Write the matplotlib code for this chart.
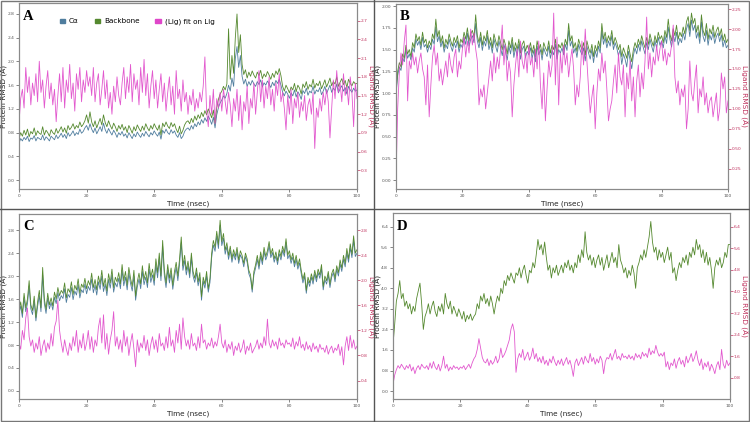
import numpy as np
import matplotlib
matplotlib.use("Agg")
import matplotlib.pyplot as plt
from matplotlib.lines import Line2D
from matplotlib.patches import Rectangle, Patch

time_ns = np.linspace(0, 100, 201)

# ---------------- Panel A ----------------
ca_a = [0.62,0.70,0.66,0.72,0.68,0.74,0.65,0.71,0.69,0.75,0.66,0.72,0.70,0.68,0.76,0.67,0.73,0.70,0.66,0.74,
        0.71,0.68,0.76,0.70,0.74,0.79,0.72,0.77,0.70,0.80,0.74,0.78,0.83,0.75,0.80,0.77,0.86,0.79,0.82,0.88,
        0.92,0.84,0.95,0.86,0.80,0.88,0.78,0.84,0.90,0.82,0.96,0.85,0.79,0.87,0.81,0.76,0.84,0.79,0.72,0.80,
        0.76,0.82,0.74,0.78,0.71,0.80,0.75,0.70,0.78,0.73,0.81,0.76,0.72,0.79,0.74,0.82,0.77,0.73,0.80,0.76,
        0.83,0.78,0.74,0.81,0.69,0.84,0.79,0.86,0.80,0.77,0.85,0.79,0.83,0.76,0.72,0.80,0.70,0.74,0.82,0.86,
        0.88,0.84,0.92,0.86,0.95,0.90,0.98,0.93,1.02,0.96,1.05,0.99,1.08,1.02,0.94,1.06,0.88,1.10,1.22,1.30,
        1.35,1.42,1.38,1.46,1.60,1.50,1.72,1.58,2.05,2.25,1.90,2.10,1.75,1.62,1.70,1.58,1.66,1.60,1.68,1.62,
        1.58,1.66,1.61,1.69,1.57,1.64,1.60,1.67,1.62,1.56,1.65,1.59,1.68,1.63,1.70,1.60,1.48,1.42,1.50,1.45,
        1.38,1.47,1.42,1.52,1.40,1.49,1.44,1.36,1.51,1.46,1.55,1.43,1.50,1.47,1.58,1.45,1.52,1.49,1.56,1.44,
        1.50,1.58,1.46,1.53,1.60,1.48,1.55,1.51,1.62,1.47,1.54,1.59,1.50,1.56,1.45,1.58,1.52,1.48,1.55,1.50,
        1.52]
bb_a = [0.70,0.80,0.74,0.84,0.76,0.86,0.73,0.82,0.78,0.88,0.75,0.83,0.79,0.77,0.90,0.76,0.84,0.80,0.74,0.85,
        0.80,0.77,0.87,0.79,0.84,0.90,0.81,0.88,0.79,0.92,0.85,0.89,0.95,0.86,0.92,0.88,0.98,0.90,0.94,1.00,
        1.10,0.96,1.15,0.98,0.90,1.00,0.88,0.96,1.04,0.93,1.10,0.97,0.90,1.00,0.92,0.86,0.96,0.90,0.82,0.92,
        0.86,0.94,0.84,0.90,0.80,0.92,0.86,0.79,0.90,0.83,0.93,0.87,0.82,0.91,0.84,0.95,0.88,0.83,0.92,0.86,
        0.95,0.89,0.84,0.93,0.76,0.96,0.90,0.98,0.91,0.87,0.97,0.90,0.95,0.86,0.80,0.91,0.78,0.84,0.93,0.98,
        1.00,0.95,1.04,0.97,1.08,1.01,1.10,1.04,1.14,1.07,1.17,1.10,1.20,1.13,1.05,1.18,0.96,1.22,1.36,1.45,
        1.50,1.58,1.52,1.62,2.55,1.70,2.10,1.80,2.40,2.80,2.15,2.45,1.95,1.78,1.86,1.72,1.82,1.75,1.84,1.77,
        1.72,1.82,1.76,1.85,1.71,1.79,1.74,1.83,1.77,1.70,1.80,1.73,1.84,1.78,1.88,1.76,1.58,1.50,1.60,1.54,
        1.47,1.57,1.52,1.63,1.49,1.60,1.55,1.45,1.62,1.56,1.66,1.53,1.61,1.57,1.70,1.55,1.63,1.59,1.67,1.54,
        1.61,1.69,1.57,1.64,1.72,1.59,1.66,1.62,1.74,1.58,1.65,1.71,1.61,1.68,1.56,1.70,1.63,1.59,1.66,1.62,
        1.63]
lig_a = [1.05,1.45,1.60,1.30,1.95,1.55,1.80,1.35,1.70,1.50,1.85,1.40,2.05,1.55,1.75,1.30,1.65,1.90,1.45,1.70,
         1.35,1.60,1.08,1.50,1.85,1.40,1.95,1.30,1.75,1.55,2.00,1.45,1.70,1.25,1.85,1.60,1.95,1.40,1.75,1.55,
         1.90,1.65,1.80,1.50,1.95,1.40,1.70,1.85,1.35,1.60,1.90,1.45,1.75,1.30,1.55,1.20,1.65,1.40,1.80,1.50,
         1.35,1.70,1.95,1.45,1.80,1.55,2.00,1.40,1.85,1.60,1.75,1.35,1.95,1.55,2.08,1.50,1.85,1.30,1.65,1.90,
         1.45,1.75,1.30,1.60,1.85,1.40,1.70,1.25,1.55,1.80,1.35,1.65,1.20,1.90,1.45,1.60,1.25,1.75,1.40,1.55,
         1.20,1.50,1.35,1.60,1.25,1.45,1.30,1.55,1.40,1.65,2.12,1.25,1.00,1.50,1.20,1.60,1.05,1.45,1.30,1.55,
         1.25,1.60,1.40,1.20,1.55,1.35,1.00,1.45,1.25,1.60,1.10,1.50,0.95,1.40,1.25,1.65,1.05,1.45,1.30,1.70,
         1.20,1.55,1.90,1.40,1.75,1.30,1.65,1.45,1.80,1.35,1.60,1.25,1.70,1.50,1.85,1.40,1.55,1.30,0.95,1.50,
         1.20,1.60,1.05,1.45,1.30,1.55,1.15,1.40,1.25,1.50,1.10,1.35,1.45,1.20,1.55,0.65,1.30,1.15,1.45,1.25,
         1.55,1.35,1.60,1.40,0.82,1.30,1.75,1.45,1.90,1.55,1.70,1.40,1.85,1.50,1.65,1.35,1.80,1.55,1.00,1.70,
         1.45]

# ---------------- Panel B ----------------
ca_b = [0.98,1.20,1.30,1.26,1.40,1.36,1.50,1.40,1.45,1.38,1.52,1.47,1.62,1.55,1.60,1.50,1.64,1.53,1.56,1.47,
        1.55,1.50,1.62,1.56,1.76,1.59,1.66,1.53,1.60,1.47,1.56,1.51,1.62,1.54,1.48,1.58,1.52,1.60,1.47,1.56,
        1.52,1.64,1.56,1.69,1.54,1.62,1.66,1.58,1.80,1.60,1.52,1.64,1.49,1.60,1.54,1.66,1.50,1.58,1.46,1.62,
        1.54,1.47,1.60,1.52,1.43,1.56,1.48,1.38,1.54,1.45,1.58,1.41,1.52,1.43,1.56,1.39,1.50,1.54,1.41,1.48,
        1.44,1.52,1.40,1.49,1.36,1.54,1.44,1.50,1.38,1.52,1.46,1.42,1.54,1.40,1.49,1.44,1.56,1.39,1.50,1.46,
        1.52,1.44,1.56,1.49,1.72,1.54,1.60,1.46,1.52,1.41,1.56,1.49,1.44,1.52,1.37,1.54,1.46,1.39,1.50,1.35,
        1.49,1.41,1.54,1.46,1.72,1.56,1.64,1.52,1.60,1.54,1.66,1.50,1.58,1.52,1.43,1.50,1.33,1.45,1.39,1.30,
        1.48,1.38,1.28,1.43,1.52,1.45,1.56,1.48,1.60,1.52,1.45,1.58,1.50,1.62,1.54,1.47,1.60,1.52,1.64,1.55,
        1.60,1.52,1.66,1.57,1.76,1.62,1.53,1.67,1.59,1.70,1.55,1.63,1.58,1.69,1.61,1.74,1.80,1.65,1.84,1.72,
        1.78,1.63,1.70,1.57,1.82,1.65,1.59,1.72,1.55,1.67,1.61,1.70,1.57,1.65,1.69,1.59,1.67,1.53,1.61,1.52,
        1.55]
bb_b = [1.00,1.25,1.35,1.30,1.45,1.40,1.55,1.45,1.50,1.42,1.58,1.52,1.68,1.60,1.65,1.55,1.70,1.58,1.62,1.52,
        1.60,1.55,1.68,1.62,1.85,1.65,1.72,1.58,1.66,1.52,1.62,1.56,1.68,1.60,1.54,1.64,1.58,1.66,1.52,1.62,
        1.58,1.70,1.62,1.75,1.60,1.68,1.72,1.64,1.90,1.66,1.58,1.70,1.55,1.66,1.60,1.72,1.56,1.64,1.52,1.68,
        1.60,1.54,1.66,1.58,1.50,1.62,1.55,1.45,1.60,1.52,1.64,1.48,1.58,1.50,1.62,1.46,1.56,1.60,1.48,1.55,
        1.50,1.58,1.46,1.55,1.42,1.60,1.50,1.56,1.44,1.58,1.52,1.48,1.60,1.46,1.55,1.50,1.62,1.45,1.56,1.52,
        1.58,1.50,1.62,1.55,1.80,1.60,1.66,1.52,1.58,1.48,1.62,1.55,1.50,1.58,1.44,1.60,1.52,1.46,1.56,1.42,
        1.55,1.48,1.60,1.52,1.80,1.62,1.70,1.58,1.66,1.60,1.72,1.56,1.64,1.58,1.50,1.56,1.42,1.52,1.46,1.40,
        1.55,1.45,1.36,1.50,1.58,1.52,1.62,1.55,1.66,1.58,1.52,1.64,1.56,1.68,1.60,1.54,1.66,1.58,1.70,1.62,
        1.66,1.58,1.72,1.64,1.85,1.68,1.60,1.74,1.66,1.78,1.62,1.70,1.65,1.76,1.68,1.82,1.88,1.72,1.92,1.80,
        1.86,1.70,1.78,1.64,1.90,1.72,1.66,1.80,1.62,1.74,1.68,1.78,1.64,1.72,1.76,1.66,1.74,1.60,1.68,1.58,
        1.62]
lig_b = [0.10,1.00,1.45,1.70,1.55,1.85,2.05,1.10,1.60,1.50,1.70,1.55,1.65,1.45,1.60,1.70,1.50,1.40,1.05,1.55,
         0.90,1.30,1.65,1.80,1.55,1.70,1.35,1.50,1.30,1.45,1.60,1.40,1.70,1.55,1.45,1.65,1.75,1.40,1.60,1.50,
         1.75,1.90,1.65,1.85,1.70,2.00,1.80,1.95,1.75,1.60,1.05,1.25,1.15,1.30,1.00,1.20,1.40,1.60,1.35,1.70,
         1.45,1.65,1.50,1.75,2.05,1.55,1.80,1.35,1.60,1.45,0.90,1.30,1.55,1.75,1.40,1.85,1.60,1.50,1.70,1.45,
         1.80,1.55,1.65,1.40,1.75,1.50,1.85,1.30,1.00,1.45,0.85,1.25,1.60,1.40,1.55,2.20,1.30,1.90,1.05,1.70,
         1.45,1.80,1.55,1.70,1.40,1.60,1.75,1.50,1.05,1.30,1.15,1.40,1.85,1.55,2.00,1.60,1.25,0.95,1.15,1.30,
         0.75,1.20,1.50,1.35,1.70,1.45,1.60,1.25,0.85,1.00,1.10,1.35,1.55,1.20,1.70,1.40,1.30,1.55,0.90,1.45,
         1.25,1.60,1.10,1.40,0.90,1.35,1.55,1.15,1.45,1.25,1.60,2.15,1.50,1.70,1.40,1.65,1.55,1.80,1.60,1.75,
         1.85,1.60,1.75,1.55,1.70,1.65,1.80,2.05,1.40,1.20,1.35,1.05,1.25,1.15,1.30,0.75,1.00,1.60,1.20,1.10,
         1.35,1.55,0.95,1.25,1.15,1.40,1.05,1.20,0.95,1.10,1.15,0.90,1.05,1.20,0.85,1.00,1.45,1.25,1.40,0.95,
         1.10]

# ---------------- Panel C ----------------
ca_c = [1.34,1.48,1.28,1.62,1.38,1.52,1.82,1.43,1.33,1.57,1.22,1.47,1.66,1.38,2.02,1.52,1.35,1.62,1.43,1.54,
        1.41,1.63,1.52,1.71,1.57,1.66,1.61,1.78,1.54,1.68,1.63,1.80,1.59,1.74,1.67,1.85,1.62,1.76,1.71,1.86,
        1.69,1.82,1.75,1.95,1.71,1.84,1.67,1.90,1.77,2.00,1.73,1.86,1.66,1.94,1.79,2.02,1.72,1.88,1.81,1.96,
        1.78,2.10,1.83,1.98,1.76,2.05,1.87,1.74,2.00,1.58,1.81,1.95,1.78,2.08,1.85,1.98,1.80,2.12,1.89,2.02,
        1.84,2.20,1.97,2.30,1.92,2.52,2.01,1.80,2.11,1.88,2.05,1.77,1.99,2.15,1.92,2.21,2.58,2.10,2.27,2.02,
        2.18,1.97,2.31,2.00,1.89,2.06,1.83,1.98,1.58,1.91,1.79,2.00,1.72,1.89,2.32,2.54,2.43,2.70,2.48,2.88,
        2.53,2.66,2.38,2.51,2.29,2.45,2.24,2.39,2.28,2.43,2.22,2.37,2.30,2.16,2.34,2.24,2.04,1.96,1.72,2.02,
        2.14,2.29,2.12,2.35,2.20,2.43,2.28,2.37,2.53,2.32,2.41,2.24,2.35,2.20,2.39,2.28,2.45,2.34,2.58,2.30,
        2.37,2.22,2.33,2.16,2.29,2.12,2.23,2.04,1.88,2.00,1.70,1.92,1.82,1.98,1.86,2.04,1.90,2.06,1.96,2.13,
        1.76,1.94,1.86,2.02,1.80,1.98,2.06,1.90,2.12,2.00,2.21,2.08,2.29,2.16,2.41,2.24,2.49,2.32,2.62,2.34,
        2.40]
bb_c = [1.40,1.55,1.35,1.70,1.45,1.60,1.92,1.50,1.40,1.65,1.28,1.55,1.75,1.45,2.15,1.60,1.42,1.70,1.50,1.62,
        1.48,1.72,1.60,1.80,1.66,1.75,1.70,1.88,1.62,1.78,1.72,1.90,1.68,1.84,1.76,1.95,1.70,1.86,1.80,1.96,
        1.78,1.92,1.84,2.05,1.80,1.94,1.76,2.00,1.86,2.10,1.82,1.96,1.74,2.04,1.88,2.12,1.80,1.98,1.90,2.06,
        1.86,2.20,1.92,2.08,1.84,2.15,1.96,1.82,2.10,1.65,1.90,2.05,1.86,2.18,1.94,2.08,1.88,2.22,1.98,2.12,
        1.92,2.30,2.06,2.40,2.00,2.62,2.10,1.88,2.20,1.96,2.14,1.84,2.08,2.24,2.00,2.30,2.68,2.18,2.36,2.10,
        2.26,2.04,2.40,2.08,1.96,2.14,1.90,2.06,1.64,1.98,1.86,2.08,1.78,1.96,2.40,2.62,2.50,2.78,2.55,2.97,
        2.60,2.74,2.45,2.58,2.36,2.52,2.30,2.46,2.34,2.50,2.28,2.44,2.36,2.22,2.40,2.30,2.10,2.02,1.77,2.08,
        2.20,2.36,2.18,2.42,2.26,2.50,2.34,2.44,2.60,2.38,2.48,2.30,2.42,2.26,2.46,2.34,2.52,2.40,2.65,2.36,
        2.44,2.28,2.40,2.22,2.36,2.18,2.30,2.10,1.94,2.06,1.75,1.98,1.88,2.04,1.92,2.10,1.96,2.12,2.02,2.20,
        1.82,2.00,1.92,2.08,1.86,2.04,2.12,1.96,2.18,2.06,2.28,2.14,2.36,2.22,2.48,2.30,2.56,2.38,2.70,2.40,
        2.46]
lig_c = [1.00,0.90,1.20,1.05,1.40,1.56,1.10,0.95,1.05,0.85,1.00,0.90,1.10,0.80,0.95,1.05,0.85,1.00,0.90,1.15,
         0.95,1.25,1.35,1.68,1.20,1.00,0.85,1.05,0.90,0.80,1.00,0.88,1.10,0.95,1.20,0.85,1.05,0.92,1.15,0.88,
         1.00,1.20,0.90,1.10,0.85,1.05,0.95,1.25,1.40,1.00,1.45,0.90,1.15,0.82,1.05,1.20,1.50,0.95,1.10,0.90,
         1.05,0.85,1.20,0.95,1.10,0.80,1.00,1.15,0.90,0.62,1.05,0.85,1.00,0.92,1.12,0.88,1.05,0.80,0.98,1.10,
         0.90,1.05,0.85,1.15,0.95,1.00,0.88,1.10,0.92,1.25,0.95,1.05,0.85,1.20,1.00,1.30,0.90,1.40,1.10,0.95,
         1.05,0.90,1.15,0.95,1.00,0.88,1.10,0.92,1.30,1.00,1.05,0.90,1.00,0.95,1.08,0.92,1.02,0.95,1.10,1.30,
         1.00,0.92,1.05,0.85,0.98,0.90,1.02,0.80,0.95,0.88,1.00,0.85,0.92,1.05,0.82,0.95,0.88,1.00,0.84,0.90,
         0.95,1.05,0.90,1.00,0.92,1.10,0.96,1.38,1.00,0.92,1.05,0.95,1.02,0.90,1.08,0.96,1.00,0.92,1.05,0.98,
         1.00,0.94,1.08,0.90,1.02,0.95,1.10,0.92,0.98,0.88,1.02,0.90,0.96,0.86,1.00,0.90,0.95,0.85,0.98,0.90,
         0.92,0.85,0.96,0.82,0.90,0.95,0.84,0.92,0.88,0.98,0.80,0.94,0.65,0.95,1.10,0.88,1.12,0.92,1.05,0.90,
         0.95]

# ---------------- Panel D ----------------
bb_d = [1.80,2.60,3.50,3.80,4.30,3.60,3.80,3.30,3.50,3.20,3.40,3.00,3.30,3.10,3.60,3.90,4.20,3.40,2.40,2.90,
        3.10,3.40,3.00,3.30,3.50,3.10,2.90,3.30,3.10,3.40,3.00,3.80,3.40,3.20,3.50,3.00,3.30,3.10,2.90,3.20,
        3.00,2.80,3.10,2.70,2.95,2.80,3.00,2.75,2.90,3.00,3.40,3.20,3.70,3.50,3.80,3.40,3.60,3.30,3.70,3.40,
        3.00,3.40,3.70,3.50,4.00,3.80,4.30,4.10,4.50,4.30,4.60,4.40,4.20,4.60,4.50,4.80,4.40,4.70,4.90,4.50,
        4.20,4.70,4.60,5.00,4.80,5.30,5.90,5.50,5.70,5.30,5.80,5.20,4.70,4.90,4.40,4.80,4.60,4.90,4.50,4.70,
        4.90,4.60,5.00,4.80,5.10,4.70,4.90,4.60,5.00,4.80,5.30,5.00,5.50,5.20,6.20,5.40,5.10,5.30,4.90,5.20,
        4.80,5.10,5.30,4.90,5.20,4.70,5.00,5.30,4.80,5.10,5.40,5.00,5.20,4.80,5.70,5.10,4.90,4.60,4.80,4.40,
        4.70,4.50,4.90,4.60,4.00,4.80,5.00,5.30,5.10,5.50,5.20,5.60,6.00,6.60,5.80,5.40,5.60,5.10,5.50,5.20,
        5.40,5.00,5.30,5.60,5.10,5.40,4.60,4.80,4.30,4.70,5.00,4.80,5.20,5.00,5.30,4.90,5.40,5.20,5.60,5.30,
        5.90,5.50,5.70,5.20,5.50,5.00,5.40,4.90,5.20,4.70,4.00,4.80,5.10,4.90,5.20,4.80,5.00,5.40,5.20,5.70,
        5.70]
lig_d = [0.55,0.90,1.10,1.25,1.15,1.30,1.20,1.10,1.25,1.15,1.30,1.05,1.20,0.95,1.15,1.25,1.10,1.30,1.20,1.15,
         1.25,1.10,1.35,1.15,1.40,1.20,1.10,1.30,1.05,1.25,1.60,1.15,1.30,1.05,1.20,1.10,1.25,1.15,1.20,1.10,
         1.20,1.15,1.25,1.10,1.20,1.30,1.15,1.35,1.50,1.60,1.85,2.25,1.90,1.55,1.40,1.35,1.50,1.25,1.45,1.30,
         1.40,1.60,1.35,1.50,1.90,1.55,1.65,1.80,2.00,2.20,2.60,2.80,2.50,1.00,1.50,1.70,1.55,1.85,1.45,1.60,
         1.75,1.45,1.60,1.90,1.50,1.70,1.40,1.55,1.35,1.60,1.30,1.45,1.25,1.50,1.35,1.60,1.40,1.25,1.45,1.30,
         1.50,1.25,1.40,1.55,1.30,1.45,1.20,0.85,1.35,1.50,1.25,1.40,1.55,1.30,1.60,1.45,1.35,1.70,1.40,1.55,
         1.30,1.50,1.35,1.60,1.45,0.95,1.40,1.55,1.50,1.70,1.45,1.65,1.85,1.50,1.60,1.45,1.70,1.55,1.60,1.50,
         1.65,1.50,1.60,1.45,1.70,1.55,1.65,1.50,1.75,1.60,1.70,1.55,1.90,1.65,1.80,1.70,2.00,1.75,1.60,1.70,
         1.60,1.75,1.20,1.40,1.10,1.35,1.25,1.50,1.15,1.40,1.55,1.30,1.45,1.20,1.60,1.35,1.50,1.70,1.40,1.55,
         1.80,1.45,1.25,1.50,1.10,1.35,1.20,1.40,1.05,1.30,1.15,0.95,1.25,1.40,1.10,1.85,1.30,1.15,1.45,1.25,
         1.35]

x_ticks = [0, 20, 40, 60, 80, 100]
legend_labels = ["C\u03b1", "Backbone", "(Lig) fit on Lig"]

C_CA = "#4f7d9e"
C_BB = "#55892f"
C_LIG = "#df46c9"
C_RIGHT = "#c0335f"
C_SPINE = "#8a8a8a"

W, H = 750, 422
fig = plt.figure(figsize=(7.5, 4.22), dpi=100)


def rect(l, t, r, b):
    return [l / W, 1 - b / H, (r - l) / W, (b - t) / H]


def panel(box, letter, ylim_l, yt_l, fmt_l, ylim_r, yt_r, fmt_r, ca, bb, lig,
          lab_l_px, lab_r_px, legend=False):
    ax = fig.add_axes(rect(*box))
    ax2 = ax.twinx()
    wpx = box[2] - box[0]
    if ca is not None:
        ax.plot(time_ns, ca, color=C_CA, lw=0.6)
    ax.plot(time_ns, bb, color=C_BB, lw=0.6)
    ax2.plot(time_ns, lig, color=C_LIG, lw=0.6, alpha=0.9)
    ax.set_xlim(0, 100)
    ax.set_ylim(*ylim_l)
    ax2.set_ylim(*ylim_r)
    ax.set_xticks(x_ticks)
    ax.set_yticks(yt_l)
    ax.set_yticklabels([fmt_l.format(v) for v in yt_l])
    ax2.set_yticks(yt_r)
    ax2.set_yticklabels([fmt_r.format(v) for v in yt_r])
    for a in (ax, ax2):
        for s in a.spines.values():
            s.set_color(C_SPINE)
            s.set_linewidth(0.8)
    ax.tick_params(axis="both", labelsize=3.2, length=2, width=0.5, pad=1.5,
                   colors="#555555")
    ax2.tick_params(axis="y", labelsize=3.2, length=1.8, width=0.5, pad=1.0,
                    colors=C_RIGHT)
    ax.set_xlabel("Time (nsec)", fontsize=5.2, color="#222222", labelpad=2)
    ax.set_ylabel("Protein RMSD (\u00c5)", fontsize=5.3, color="#222222")
    ax.yaxis.set_label_coords(-lab_l_px / wpx, 0.5)
    ax2.set_ylabel("Ligand RMSD (\u00c5)", fontsize=5.3, color=C_RIGHT, rotation=270,
                   va="bottom", ha="center")
    ax2.yaxis.set_label_coords(1 + lab_r_px / wpx, 0.5)
    ax.text(0.012, 0.965, letter, transform=ax.transAxes, ha="left", va="top",
            fontsize=10.5, fontweight="bold", family="Liberation Serif", zorder=10)
    if legend:
        handles = [Patch(color=C_CA), Patch(color=C_BB), Patch(color=C_LIG)]
        ax2.legend(handles, legend_labels, ncol=3, frameon=False, fontsize=5.2,
                   loc="center left", bbox_to_anchor=(0.105, 0.9),
                   handlelength=0.7, handleheight=0.5, handletextpad=0.6,
                   columnspacing=2.2, borderpad=0.2)
    return ax, ax2


panel((19, 3, 357, 189), "A", (-0.15, 2.985), [0.0, 0.4, 0.8, 1.2, 1.6, 2.0, 2.4, 2.8], "{:.1f}",
      (0.0, 2.985), [0.3, 0.6, 0.9, 1.2, 1.5, 1.8, 2.1, 2.4, 2.7], "{:.1f}",
      ca_a, bb_a, lig_a, 10.5, 9.8, legend=True)
panel((396, 3.5, 728, 188.7), "B", (-0.1, 2.03), [0.0, 0.25, 0.5, 0.75, 1.0, 1.25, 1.5, 1.75, 2.0], "{:.2f}",
      (0.0, 2.32), [0.25, 0.5, 0.75, 1.0, 1.25, 1.5, 1.75, 2.0, 2.25], "{:.2f}",
      ca_b, bb_b, lig_b, 13.5, 11.8)
panel((19, 214, 357, 399.3), "C", (-0.145, 3.08), [0.0, 0.4, 0.8, 1.2, 1.6, 2.0, 2.4, 2.8], "{:.1f}",
      (0.1, 3.06), [0.4, 0.8, 1.2, 1.6, 2.0, 2.4, 2.8], "{:.1f}",
      ca_c, bb_c, lig_c, 10.5, 9.8)
panel((393, 213, 730, 399.3), "D", (-0.32, 6.93), [0.0, 0.8, 1.6, 2.4, 3.2, 4.0, 4.8, 5.6, 6.4], "{:.1f}",
      (0.0, 6.91), [0.8, 1.6, 2.4, 3.2, 4.0, 4.8, 5.6, 6.4], "{:.1f}",
      None, bb_d, lig_d, 10.5, 9.8)

# panel separators and outer frame
fig.add_artist(Line2D([374 / W, 374 / W], [0, 1], transform=fig.transFigure,
                      color="#555555", lw=1.0))
fig.add_artist(Line2D([0, 1], [1 - 209 / H, 1 - 209 / H], transform=fig.transFigure,
                      color="#555555", lw=1.0))
fig.add_artist(Rectangle((0.7 / W, 0.7 / H), 1 - 1.4 / W, 1 - 1.4 / H,
                         transform=fig.transFigure, fill=False,
                         edgecolor="#777777", lw=1.0))

fig.savefig("out.png", dpi=100)
